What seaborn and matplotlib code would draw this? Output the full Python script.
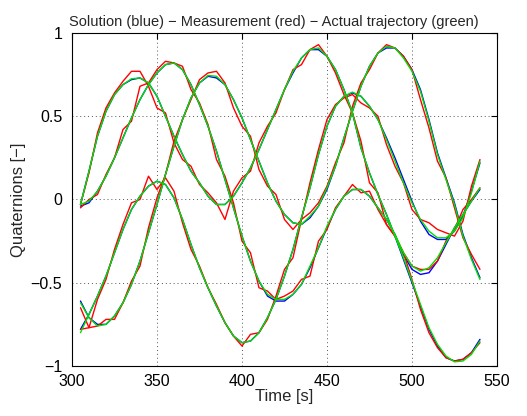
import numpy as np
import pandas as pd
import matplotlib
matplotlib.use('Agg')
import matplotlib.pyplot as plt
import seaborn as sns

# sample times [s]
time_s = np.arange(305, 541, 5)

# actual trajectory (green), four quaternion components
q1_true = [-0.03, 0.17, 0.38, 0.53, 0.63, 0.69, 0.725, 0.73, 0.70, 0.62, 0.50, 0.38, 0.27, 0.17, 0.10, 0.02,
           -0.03, -0.03, 0.02, 0.10, 0.19, 0.30, 0.42, 0.54, 0.66, 0.77, 0.85, 0.90, 0.91, 0.86, 0.78, 0.66,
           0.52, 0.31, 0.16, 0.03, -0.09, -0.22, -0.35, -0.49, -0.63, -0.77, -0.87, -0.94, -0.975, -0.97, -0.93, -0.85]
q2_true = [-0.03, -0.01, 0.05, 0.14, 0.25, 0.37, 0.49, 0.60, 0.69, 0.76, 0.81, 0.82, 0.78, 0.69, 0.57, 0.44,
           0.29, 0.12, -0.05, -0.22, -0.37, -0.49, -0.57, -0.60, -0.60, -0.57, -0.51, -0.40, -0.29, -0.16, -0.06, 0.02,
           0.06, 0.06, 0.02, -0.05, -0.12, -0.21, -0.32, -0.40, -0.43, -0.41, -0.35, -0.26, -0.17, -0.09, -0.01, 0.07]
q3_true = [-0.62, -0.71, -0.76, -0.75, -0.70, -0.62, -0.51, -0.37, -0.20, -0.03, 0.15, 0.32, 0.48, 0.61, 0.70, 0.745,
           0.74, 0.69, 0.60, 0.49, 0.36, 0.23, 0.10, -0.01, -0.09, -0.14, -0.15, -0.10, -0.04, 0.07, 0.20, 0.37,
           0.53, 0.68, 0.80, 0.88, 0.92, 0.91, 0.85, 0.77, 0.65, 0.47, 0.27, 0.12, -0.03, -0.22, -0.36, -0.48]
q4_true = [-0.80, -0.69, -0.58, -0.46, -0.32, -0.18, -0.06, 0.02, 0.08, 0.11, 0.09, 0.01, -0.12, -0.27, -0.41, -0.53,
           -0.64, -0.74, -0.82, -0.86, -0.85, -0.80, -0.71, -0.60, -0.46, -0.30, -0.11, 0.07, 0.27, 0.44, 0.56, 0.62,
           0.645, 0.62, 0.56, 0.48, 0.36, 0.23, 0.10, -0.02, -0.12, -0.19, -0.23, -0.23, -0.19, -0.11, 0.04, 0.23]

# solution (blue)
q1_sol = [-0.03, 0.17, 0.38, 0.53, 0.63, 0.69, 0.72, 0.73, 0.70, 0.62, 0.50, 0.38, 0.27, 0.17, 0.10, 0.02,
          -0.03, -0.03, 0.02, 0.10, 0.19, 0.30, 0.42, 0.54, 0.66, 0.76, 0.85, 0.90, 0.90, 0.86, 0.78, 0.66,
          0.52, 0.31, 0.16, 0.03, -0.09, -0.22, -0.36, -0.50, -0.64, -0.78, -0.88, -0.95, -0.97, -0.96, -0.92, -0.84]
q2_sol = [-0.04, -0.02, 0.05, 0.14, 0.25, 0.37, 0.49, 0.60, 0.69, 0.76, 0.81, 0.82, 0.78, 0.69, 0.57, 0.44,
          0.29, 0.12, -0.05, -0.22, -0.37, -0.49, -0.58, -0.61, -0.61, -0.57, -0.51, -0.41, -0.29, -0.17, -0.06, 0.02,
          0.06, 0.06, 0.02, -0.05, -0.12, -0.21, -0.33, -0.42, -0.45, -0.44, -0.37, -0.27, -0.17, -0.09, -0.01, 0.06]
q3_sol = [-0.61, -0.71, -0.75, -0.75, -0.70, -0.62, -0.51, -0.37, -0.20, -0.03, 0.15, 0.32, 0.48, 0.61, 0.70, 0.74,
          0.73, 0.69, 0.60, 0.49, 0.36, 0.23, 0.10, -0.01, -0.09, -0.14, -0.15, -0.11, -0.04, 0.06, 0.20, 0.37,
          0.53, 0.68, 0.80, 0.88, 0.91, 0.91, 0.86, 0.78, 0.66, 0.48, 0.28, 0.13, -0.02, -0.21, -0.35, -0.47]
q4_sol = [-0.78, -0.69, -0.58, -0.46, -0.32, -0.18, -0.06, 0.02, 0.08, 0.11, 0.09, 0.01, -0.12, -0.27, -0.41, -0.53,
          -0.64, -0.74, -0.82, -0.86, -0.85, -0.80, -0.71, -0.60, -0.46, -0.30, -0.11, 0.07, 0.27, 0.44, 0.56, 0.62,
          0.64, 0.62, 0.56, 0.48, 0.37, 0.25, 0.12, -0.01, -0.13, -0.21, -0.24, -0.24, -0.19, -0.10, 0.05, 0.22]

# measurement (red)
q1_meas = [-0.03, 0.16, 0.40, 0.55, 0.64, 0.71, 0.77, 0.77, 0.68, 0.55, 0.52, 0.34, 0.24, 0.20, 0.09, 0.04,
           -0.02, -0.12, 0.05, 0.13, 0.17, 0.34, 0.44, 0.52, 0.66, 0.78, 0.81, 0.90, 0.93, 0.86, 0.76, 0.63,
           0.52, 0.35, 0.10, 0.04, -0.15, -0.22, -0.32, -0.48, -0.66, -0.80, -0.89, -0.95, -0.97, -0.96, -0.92, -0.86]
q2_meas = [-0.05, 0.00, 0.03, 0.15, 0.25, 0.42, 0.47, 0.68, 0.70, 0.78, 0.83, 0.82, 0.80, 0.66, 0.58, 0.45,
           0.24, 0.14, -0.02, -0.25, -0.32, -0.53, -0.55, -0.60, -0.58, -0.55, -0.48, -0.46, -0.25, -0.18, -0.05, 0.02,
           0.09, 0.04, 0.05, -0.06, -0.15, -0.22, -0.32, -0.40, -0.42, -0.42, -0.37, -0.25, -0.18, -0.06, 0.00, 0.07]
q3_meas = [-0.65, -0.77, -0.76, -0.72, -0.72, -0.62, -0.49, -0.40, -0.17, 0.01, 0.15, 0.35, 0.48, 0.60, 0.72, 0.76,
           0.77, 0.70, 0.55, 0.44, 0.38, 0.18, 0.08, 0.03, -0.12, -0.18, -0.12, -0.08, -0.02, 0.08, 0.22, 0.34,
           0.56, 0.70, 0.78, 0.88, 0.93, 0.91, 0.86, 0.78, 0.60, 0.43, 0.23, 0.13, -0.05, -0.23, -0.33, -0.42]
q4_meas = [-0.78, -0.77, -0.60, -0.48, -0.30, -0.15, -0.02, 0.00, 0.14, 0.06, 0.13, 0.05, -0.14, -0.30, -0.40, -0.53,
           -0.63, -0.74, -0.82, -0.88, -0.81, -0.80, -0.72, -0.58, -0.42, -0.35, -0.12, 0.10, 0.30, 0.48, 0.57, 0.61,
           0.63, 0.58, 0.55, 0.50, 0.33, 0.20, 0.10, -0.06, -0.12, -0.14, -0.18, -0.20, -0.22, -0.13, 0.08, 0.24]

x_ticks = [300, 350, 400, 450, 500, 550]
y_ticks = [-1, -0.5, 0, 0.5, 1]
y_tick_labels = ['\u22121', '\u22120.5', '0', '0.5', '1']

sns.set_style('white')
plt.rcParams['font.family'] = ['Liberation Sans', 'DejaVu Sans']

fig = plt.figure(figsize=(5.27, 4.16), dpi=100)
ax = fig.add_axes([0.1366, 0.1202, 0.8064, 0.8005])

series = [
    ('#0000ff', [q1_sol, q2_sol, q3_sol, q4_sol]),
    ('#ff0000', [q1_meas, q2_meas, q3_meas, q4_meas]),
    ('#00e000', [q1_true, q2_true, q3_true, q4_true]),
]
for color, comps in series:
    for comp in comps:
        sns.lineplot(x=time_s, y=comp, color=color, linewidth=1.0, ax=ax, legend=False)

ax.set_xlim(300, 550)
ax.set_ylim(-1, 1)
ax.set_xticks(x_ticks)
ax.set_yticks(y_ticks)
ax.set_yticklabels(y_tick_labels)
ax.grid(True, color='#555555', linestyle=(0, (1, 3)), linewidth=0.7)
for sp in ax.spines.values():
    sp.set_visible(True)
    sp.set_color('black')
    sp.set_linewidth(0.8)
ax.tick_params(direction='in', length=4, width=0.8, top=True, right=True,
               labelsize=11.5, colors='black')
ax.tick_params(axis='x', pad=6)
ax.tick_params(axis='y', pad=7)

ax.set_xlabel('Time [s]', fontsize=12, labelpad=0)
ax.set_ylabel('Quaternions [\u2212]', fontsize=12, labelpad=3)
ax.set_title('Solution (blue) \u2212 Measurement (red) \u2212 Actual trajectory (green)',
             fontsize=10.5, pad=5, x=0.475)

fig.savefig('out.png', dpi=100)
